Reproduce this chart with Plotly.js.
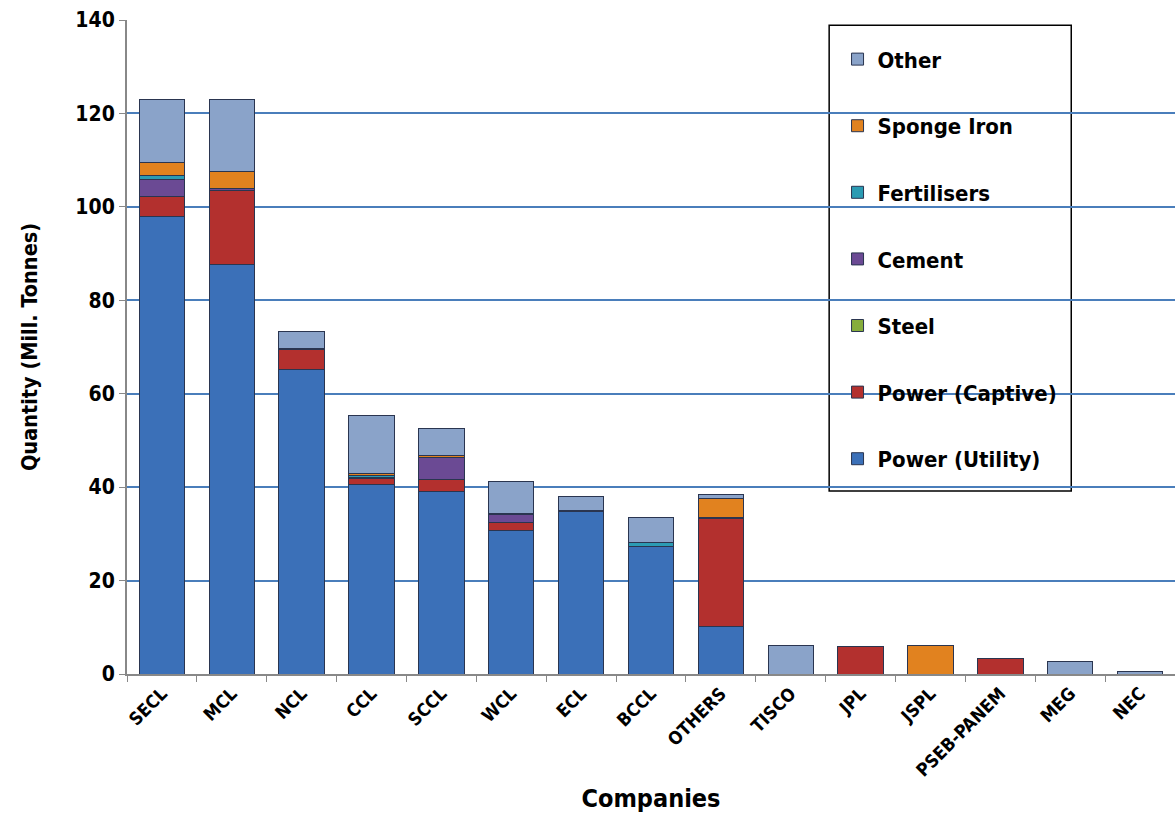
<!DOCTYPE html>
<html><head><meta charset="utf-8">
<script src="https://cdn.plot.ly/plotly-3.0.1.min.js"></script>
<style>html,body{margin:0;padding:0;background:#fff}#chart{width:1175px;height:816px}</style>
</head><body><div id="chart"></div>
<script>
const companies = ["SECL","MCL","NCL","CCL","SCCL","WCL","ECL","BCCL","OTHERS","TISCO","JPL","JSPL","PSEB-PANEM","MEG","NEC"];
const powerUtility = [97.9, 87.6, 65.2, 40.6, 39.0, 30.7, 34.8, 27.3, 10.1, 0, 0, 0, 0, 0, 0];
const powerCaptive = [4.3, 16.0, 4.3, 1.3, 2.7, 1.7, 0, 0, 23.1, 0, 5.8, 0, 3.4, 0, 0];
const steel        = [0, 0, 0, 0.2, 0, 0, 0, 0, 0, 0, 0, 0, 0, 0, 0];
const cement       = [3.7, 0.3, 0, 0, 4.7, 1.7, 0, 0, 0.4, 0, 0, 0, 0, 0, 0];
const fertilisers  = [0.9, 0, 0, 0.3, 0, 0, 0, 0.9, 0, 0, 0, 0, 0, 0, 0];
const spongeIron   = [2.7, 3.7, 0.2, 0.5, 0.3, 0.3, 0.3, 0, 3.9, 0, 0, 6.0, 0, 0, 0];
const other        = [13.5, 15.4, 3.7, 12.4, 5.9, 6.9, 3.0, 5.4, 1.0, 6.0, 0, 0, 0, 2.6, 0.6];
const yTicks = [0, 20, 40, 60, 80, 100, 120, 140];

const font = "'DejaVu Sans Condensed', 'Liberation Sans', Arial, sans-serif";
const series = [
  ["Power (Utility)", powerUtility, "#3b70b8"],
  ["Power (Captive)", powerCaptive, "#b3302e"],
  ["Steel", steel, "#86ad3c"],
  ["Cement", cement, "#6b4a94"],
  ["Fertilisers", fertilisers, "#2b9bb3"],
  ["Sponge Iron", spongeIron, "#e1821f"],
  ["Other", other, "#8aa3c9"]
];
const traces = series.map((s, i) => ({
  type: "bar", name: s[0], x: companies, y: s[1], legendgroup: "g" + i,
  legendrank: series.length - i,
  marker: {color: s[2], line: {color: "#2a3550", width: 1}},
  hoverinfo: "x+y+name"
}));

const layout = {
  width: 1175, height: 816,
  margin: {l: 127, r: 0, t: 20, b: 142},
  barmode: "stack", bargap: 0.35,
  paper_bgcolor: "#fff", plot_bgcolor: "#fff",
  font: {family: font, color: "#000"},
  xaxis: {
    type: "category", tickangle: -45, tickson: "boundaries",
    ticks: "outside", ticklen: 6, tickcolor: "#888",
    showline: true, linecolor: "#888", linewidth: 2,
    tickfont: {size: 18, family: font, weight: "bold"},
    title: {text: "<b>Companies</b>", font: {size: 25, family: font}, standoff: 10}
  },
  yaxis: {
    range: [0, 140], tickvals: yTicks, ticktext: yTicks.map(String),
    ticks: "outside", ticklen: 6, tickcolor: "#888",
    showline: true, linecolor: "#888", linewidth: 2,
    showgrid: true, gridcolor: "#4a7ebb", gridwidth: 1.5, zeroline: false,
    tickfont: {size: 21, family: font, weight: "bold"},
    title: {text: "<b>Quantity (Mill. Tonnes)</b>", font: {size: 21.5, family: font}, standoff: 32}
  },
  legend: {
    x: 0.678, y: 0.972, xanchor: "left", yanchor: "top",
    traceorder: "grouped", tracegroupgap: 35,
    bgcolor: "rgba(0,0,0,0)", borderwidth: 0,
    font: {size: 22, family: font, weight: "bold"}
  },
  shapes: [{
    type: "rect", xref: "paper", yref: "paper", layer: "below",
    x0: 0.67, x1: 0.901, y0: 0.28, y1: 0.992,
    fillcolor: "#fff", line: {color: "#000", width: 1.5}
  }]
};
Plotly.newPlot("chart", traces, layout, {displayModeBar: false});
</script></body></html>
